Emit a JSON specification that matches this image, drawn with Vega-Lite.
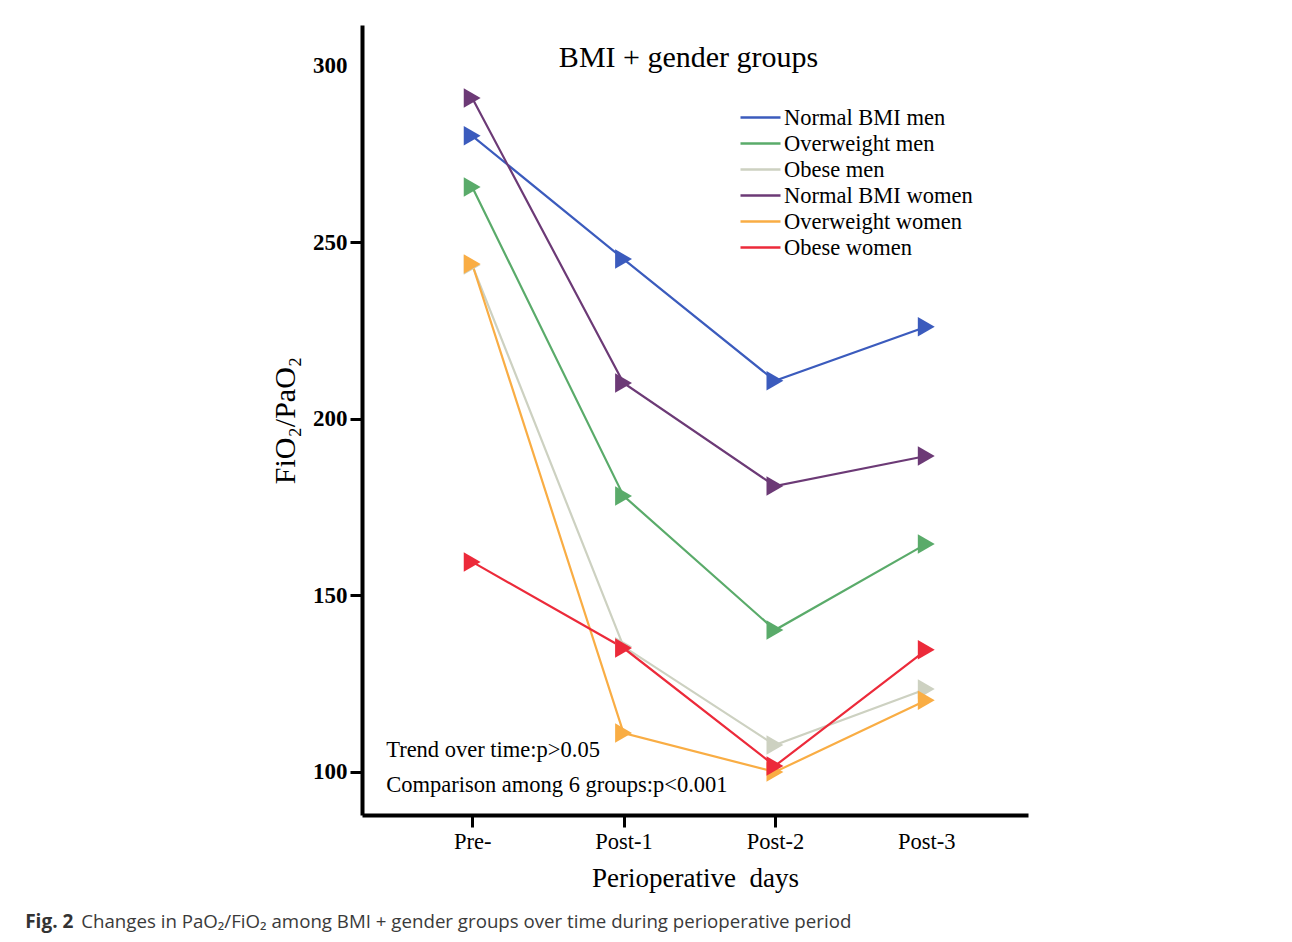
{
  "$schema": "https://vega.github.io/schema/vega-lite/v6.json",
  "width": 666,
  "height": 790,
  "autosize": {"type": "none"},
  "padding": {"left": 362, "top": 25, "right": 264, "bottom": 127},
  "background": "white",
  "config": {
    "view": {"stroke": null},
    "font": "Liberation Serif",
    "axis": {"grid": false, "domainColor": "black", "domainWidth": 4, "tickColor": "black", "tickWidth": 3, "labelColor": "black", "titleColor": "black", "labelFont": "Liberation Serif", "titleFont": "Liberation Serif", "titleFontWeight": "normal"}
  },
  "datasets": {
    "series": [
      {"group": "Normal BMI men", "day": "Pre-", "value": 280.2},
      {"group": "Normal BMI men", "day": "Post-1", "value": 245.3},
      {"group": "Normal BMI men", "day": "Post-2", "value": 210.8},
      {"group": "Normal BMI men", "day": "Post-3", "value": 226.1},
      {"group": "Overweight men", "day": "Pre-", "value": 265.7},
      {"group": "Overweight men", "day": "Post-1", "value": 178.2},
      {"group": "Overweight men", "day": "Post-2", "value": 140.2},
      {"group": "Overweight men", "day": "Post-3", "value": 164.6},
      {"group": "Obese men", "day": "Pre-", "value": 243.6},
      {"group": "Obese men", "day": "Post-1", "value": 135.5},
      {"group": "Obese men", "day": "Post-2", "value": 107.6},
      {"group": "Obese men", "day": "Post-3", "value": 123.5},
      {"group": "Normal BMI women", "day": "Pre-", "value": 290.9},
      {"group": "Normal BMI women", "day": "Post-1", "value": 210.2},
      {"group": "Normal BMI women", "day": "Post-2", "value": 181.0},
      {"group": "Normal BMI women", "day": "Post-3", "value": 189.5},
      {"group": "Overweight women", "day": "Pre-", "value": 243.9},
      {"group": "Overweight women", "day": "Post-1", "value": 111.0},
      {"group": "Overweight women", "day": "Post-2", "value": 100.0},
      {"group": "Overweight women", "day": "Post-3", "value": 120.3},
      {"group": "Obese women", "day": "Pre-", "value": 159.5},
      {"group": "Obese women", "day": "Post-1", "value": 135.1},
      {"group": "Obese women", "day": "Post-2", "value": 101.7},
      {"group": "Obese women", "day": "Post-3", "value": 134.6}
    ],
    "notes": [
      {"label": "BMI + gender groups", "kind": "title"},
      {"label": "Trend over time:p>0.05", "kind": "trend"},
      {"label": "Comparison among 6 groups:p<0.001", "kind": "comparison"},
      {"label": "Fig. 2", "kind": "figlabel"},
      {"label": "Changes in PaO₂/FiO₂ among BMI + gender groups over time during perioperative period", "kind": "caption"}
    ]
  },
  "layer": [
    {
      "data": {"name": "series"},
      "mark": {"type": "line", "strokeWidth": 2.2},
      "encoding": {
        "x": {
          "field": "day",
          "type": "ordinal",
          "sort": ["Pre-", "Post-1", "Post-2", "Post-3"],
          "scale": {"type": "point", "domain": ["Pre-", "Post-1", "Post-2", "Post-3"], "padding": 0.7, "align": 0.52},
          "axis": {
            "title": "Perioperative\u00a0\u00a0days",
            "titleFontSize": 27,
            "titlePadding": 13,
            "labelFontSize": 22.5,
            "labelPadding": 3,
            "labelAngle": 0,
            "tickSize": 12,
            "tickColor": {"condition": {"test": "datum.value === 'Post-3'", "value": "transparent"}, "value": "black"}
          }
        },
        "y": {
          "field": "value",
          "type": "quantitative",
          "scale": {"domain": [87.8, 311.6], "nice": false, "zero": false},
          "axis": {
            "title": "FiO₂/PaO₂",
            "titleFontSize": 30,
            "titlePadding": 12,
            "labelFontSize": 23,
            "labelFontWeight": "bold",
            "labelPadding": 3,
            "tickSize": 12,
            "values": [100, 150, 200, 250, 300],
            "tickColor": {"condition": {"test": "datum.value === 300", "value": "transparent"}, "value": "black"}
          }
        },
        "color": {
          "field": "group",
          "type": "nominal",
          "scale": {
            "domain": ["Normal BMI men", "Overweight men", "Obese men", "Normal BMI women", "Overweight women", "Obese women"],
            "range": ["#3b5bbd", "#5aab6a", "#cdd1c1", "#6c3a76", "#f9ad44", "#ec2a3a"]
          },
          "legend": {
            "orient": "none",
            "legendX": 377,
            "legendY": 80,
            "title": null,
            "padding": 0,
            "symbolType": "stroke",
            "symbolSize": 1600,
            "symbolStrokeWidth": 2.5,
            "labelFont": "Liberation Serif",
            "labelFontSize": 22.5,
            "labelColor": "black",
            "labelOffset": 2,
            "rowPadding": 0,
            "clipHeight": 25.2,
            "labelLimit": 400
          }
        }
      }
    },
    {
      "data": {"name": "series"},
      "mark": {"type": "point", "shape": "triangle-right", "filled": true, "opacity": 1, "size": 380},
      "encoding": {
        "x": {"field": "day", "type": "ordinal", "sort": ["Pre-", "Post-1", "Post-2", "Post-3"]},
        "y": {"field": "value", "type": "quantitative"},
        "fill": {
          "field": "group",
          "type": "nominal",
          "scale": {
            "domain": ["Normal BMI men", "Overweight men", "Obese men", "Normal BMI women", "Overweight women", "Obese women"],
            "range": ["#3b5bbd", "#5aab6a", "#cdd1c1", "#6c3a76", "#f9ad44", "#ec2a3a"]
          },
          "legend": null
        }
      }
    },
    {
      "data": {"name": "notes"},
      "transform": [{"filter": "datum.kind === 'title'"}],
      "mark": {"type": "text", "fontSize": 30, "font": "Liberation Serif", "align": "center", "baseline": "middle", "dx": 65, "color": "black"},
      "encoding": {
        "x": {"datum": "Post-1"},
        "y": {"datum": 302.3},
        "text": {"field": "label", "type": "nominal"}
      }
    },
    {
      "data": {"name": "notes"},
      "transform": [{"filter": "datum.kind === 'trend'"}],
      "mark": {"type": "text", "fontSize": 22.5, "font": "Liberation Serif", "align": "left", "baseline": "middle", "dx": -86, "color": "black"},
      "encoding": {
        "x": {"datum": "Pre-"},
        "y": {"datum": 106.2},
        "text": {"field": "label", "type": "nominal"}
      }
    },
    {
      "data": {"name": "notes"},
      "transform": [{"filter": "datum.kind === 'comparison'"}],
      "mark": {"type": "text", "fontSize": 22.5, "font": "Liberation Serif", "align": "left", "baseline": "middle", "dx": -86, "color": "black"},
      "encoding": {
        "x": {"datum": "Pre-"},
        "y": {"datum": 96.3},
        "text": {"field": "label", "type": "nominal"}
      }
    },
    {
      "data": {"name": "notes"},
      "transform": [{"filter": "datum.kind === 'figlabel'"}],
      "mark": {"type": "text", "fontSize": 19, "font": "Open Sans", "fontWeight": "bold", "align": "left", "baseline": "middle", "dx": -447, "color": "#333333"},
      "encoding": {
        "x": {"datum": "Pre-"},
        "y": {"datum": 57.5},
        "text": {"field": "label", "type": "nominal"}
      }
    },
    {
      "data": {"name": "notes"},
      "transform": [{"filter": "datum.kind === 'caption'"}],
      "mark": {"type": "text", "fontSize": 18.7, "font": "Open Sans", "align": "left", "baseline": "middle", "dx": -391, "color": "#3a3a3a"},
      "encoding": {
        "x": {"datum": "Pre-"},
        "y": {"datum": 57.5},
        "text": {"field": "label", "type": "nominal"}
      }
    }
  ]
}
